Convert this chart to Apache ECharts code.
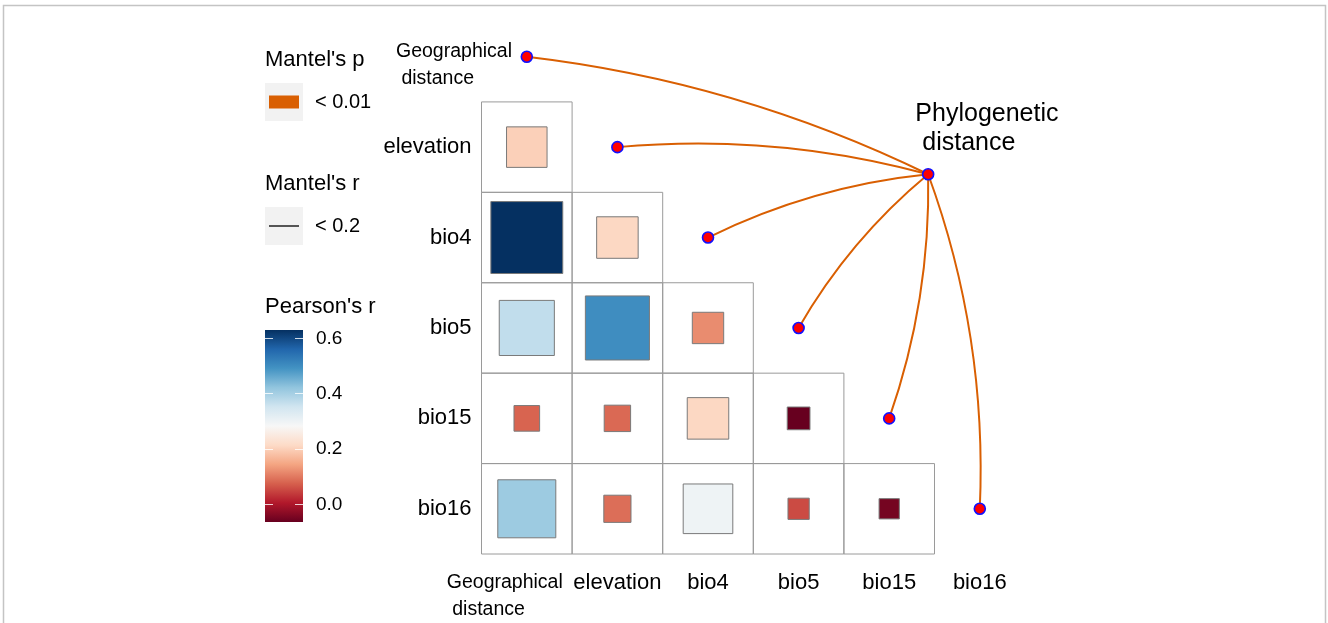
<!DOCTYPE html>
<html>
<head>
<meta charset="utf-8">
<script src="https://cdn.jsdelivr.net/npm/echarts@6/dist/echarts.min.js"></script>
<style>
  html, body { margin: 0; padding: 0; background: #fff; }
  #chart { width: 1328px; height: 623px; }
</style>
</head>
<body>
<div id="chart"></div>
<script>
// Variables of the correlation matrix (top to bottom / left to right)
const variables = ['Geographical distance', 'elevation', 'bio4', 'bio5', 'bio15', 'bio16'];

// Pearson's r of each row variable against the variables before it
const rElevation = [0.20];
const rBio4 = [0.63, 0.21];
const rBio5 = [0.37, 0.50, 0.12];
const rBio15 = [0.08, 0.085, 0.21, -0.063];
const rBio16 = [0.41, 0.09, 0.30, 0.055, -0.05];

// Mantel tests of the species matrix against every variable
const mantelSpec = 'Phylogenetic distance';
const mantelTargets = ['Geographical distance', 'elevation', 'bio4', 'bio5', 'bio15', 'bio16'];
const mantelP = ['< 0.01', '< 0.01', '< 0.01', '< 0.01', '< 0.01', '< 0.01'];
const mantelR = ['< 0.2', '< 0.2', '< 0.2', '< 0.2', '< 0.2', '< 0.2'];

// Colour bar tick labels
const pearsonTicks = [0.0, 0.2, 0.4, 0.6];

// ---------------------------------------------------------------------------
const FONT = "'Liberation Sans', Arial, Helvetica, sans-serif";
const RDBU = ['#67001F', '#B2182B', '#D6604D', '#F4A582', '#FDDBC7', '#F7F7F7',
              '#D1E5F0', '#92C5DE', '#4393C3', '#2166AC', '#053061'];
const MANTEL_P_COLOR = { '< 0.01': '#D95F02' };
const MANTEL_R_WIDTH = { '< 0.2': 2 };
const LINK_BEND = [0.085, 0.09, 0.09, 0.09, -0.09, -0.1];
// placement of the species node in cell units (x from left, y from top)
const SPEC_NODE = [4.93, 1.80];

const rowValues = [[], rElevation, rBio4, rBio5, rBio15, rBio16];
const cells = [];
rowValues.forEach((vals, row) => vals.forEach((r, col) => cells.push([col, row, r])));
const allR = cells.map(c => c[2]);
const rMin = Math.min(...allR);
const rMax = Math.max(...allR);

const wrapName = n => n === 'Geographical distance' ? 'Geographical\n distance' : n;
const n = variables.length;

const chart = echarts.init(document.getElementById('chart'), null, { renderer: 'canvas' });

const diagPoints = variables.map((v, i) => ({ name: v, value: [i + 0.5, i + 0.5] }));
const links = mantelTargets.map((t, k) => {
  const i = variables.indexOf(t);
  return {
    coords: [[i + 0.5, i + 0.5], SPEC_NODE],
    lineStyle: {
      color: MANTEL_P_COLOR[mantelP[k]],
      width: MANTEL_R_WIDTH[mantelR[k]],
      opacity: 1,
      curveness: LINK_BEND[k]
    }
  };
});

// colour bar axis: labels on the right, or short white ticks inside the bar
const barTickAxis = (position, withLabels) => ({
  type: 'value', gridIndex: 1, min: rMin, max: rMax, position: position, z: 10,
  axisLine: { show: false }, splitLine: { show: false },
  axisTick: withLabels ? { show: false } : {
    show: true, inside: true, length: 8, customValues: pearsonTicks.slice(),
    lineStyle: { color: 'rgba(255,255,255,0.8)', width: 1 }
  },
  axisLabel: withLabels
    ? { show: true, margin: 13, fontSize: 19, color: '#000',
        customValues: pearsonTicks.slice(), formatter: v => Number(v).toFixed(1) }
    : { show: false }
});

const option = {
  animation: false,
  textStyle: { fontFamily: FONT, color: '#000' },
  grid: [
    { left: 481.5, top: 11.5, width: 543.6, height: 543.6, containLabel: false },
    { left: 265, top: 330, width: 38, height: 192 }
  ],
  xAxis: [
    {
      type: 'category', gridIndex: 0, data: variables, position: 'bottom',
      axisLine: { show: false }, axisTick: { show: false }, splitLine: { show: false },
      axisLabel: {
        interval: 0, margin: 15, fontSize: 22, color: '#000', lineHeight: 27,
        formatter: (v) => v === 'Geographical distance'
          ? '{g|Geographical}\n{g| distance}' : v,
        rich: { g: { fontSize: 19.5, lineHeight: 27, width: 116, align: 'left', padding: [0, 44, 0, 0], color: '#000' } }
      }
    },
    { type: 'value', gridIndex: 0, min: 0, max: n, show: false },
    { type: 'value', gridIndex: 1, min: 0, max: 1, show: false }
  ],
  yAxis: [
    {
      type: 'category', gridIndex: 0, data: variables, inverse: true,
      axisLine: { show: false }, axisTick: { show: false }, splitLine: { show: false },
      axisLabel: {
        interval: 0, margin: 10, fontSize: 22, color: '#000',
        formatter: (v, i) => i === 0 ? '' : v
      }
    },
    { type: 'value', gridIndex: 0, min: 0, max: n, inverse: true, show: false },
    barTickAxis('right', true),
    barTickAxis('left', false),
    Object.assign(barTickAxis('left', false), { offset: -30 })
  ],
  visualMap: {
    show: false, type: 'continuous', seriesIndex: 0, dimension: 2,
    min: rMin, max: rMax, inRange: { color: RDBU }
  },
  series: [
    {
      // correlation cells: outline of the cell plus a square sized by |r|
      type: 'custom', xAxisIndex: 0, yAxisIndex: 0, data: cells, z: 2,
      encode: { x: 0, y: 1 },
      renderItem: (params, api) => {
        const c = api.coord([api.value(0), api.value(1)]);
        const s = api.size([1, 1]);
        const side = s[0] * Math.sqrt(Math.abs(api.value(2)));
        return {
          type: 'group',
          children: [
            { type: 'rect', shape: { x: c[0] - s[0] / 2, y: c[1] - s[1] / 2, width: s[0], height: s[1] },
              style: { fill: 'none', stroke: '#9a9a9a', lineWidth: 1 } },
            { type: 'rect', shape: { x: c[0] - side / 2, y: c[1] - side / 2, width: side, height: side },
              style: { fill: api.visual('color'), stroke: '#7a7a7a', lineWidth: 1 } }
          ]
        };
      }
    },
    {
      type: 'lines', coordinateSystem: 'cartesian2d', xAxisIndex: 1, yAxisIndex: 1,
      z: 3, data: links, symbol: 'none', silent: true,
      lineStyle: { opacity: 1 }
    },
    {
      type: 'scatter', xAxisIndex: 1, yAxisIndex: 1, z: 4, symbol: 'circle', symbolSize: 11,
      itemStyle: { color: '#FF0000', borderColor: '#1010FF', borderWidth: 1.6, opacity: 1 },
      data: diagPoints.concat([{ name: mantelSpec, value: SPEC_NODE }]),
      label: {
        show: true, fontFamily: FONT, color: '#000',
        formatter: p => {
          if (p.name === mantelSpec) return 'Phylogenetic\n distance';
          return p.dataIndex === 0 ? wrapName(p.name) : '';
        }
      },
      emphasis: { disabled: true }
    },
    {
      // colour bar
      type: 'custom', xAxisIndex: 2, yAxisIndex: 2, data: [[0, rMin]], silent: true, z: 1,
      renderItem: (params) => {
        const cs = params.coordSys;
        return {
          type: 'rect', shape: { x: cs.x, y: cs.y, width: cs.width, height: cs.height },
          style: {
            fill: new echarts.graphic.LinearGradient(0, 1, 0, 0,
              RDBU.map((c, i) => ({ offset: i / (RDBU.length - 1), color: c })))
          }
        };
      }
    }
  ],
  graphic: [
    // outer frame
    { type: 'rect', z: 0, shape: { x: 3.5, y: 5.5, width: 1322, height: 660 },
      style: { fill: 'none', stroke: '#c4c4c4', lineWidth: 1.5 } },
    // Mantel's p key
    { type: 'text', style: { x: 265, y: 60, text: "Mantel's p", font: '22px ' + FONT, fill: '#000', verticalAlign: 'middle' } },
    { type: 'rect', shape: { x: 265, y: 83, width: 38, height: 38 }, style: { fill: '#F2F2F2' } },
    { type: 'rect', shape: { x: 269, y: 95.5, width: 30, height: 13 }, style: { fill: MANTEL_P_COLOR['< 0.01'] } },
    { type: 'text', style: { x: 315, y: 102.5, text: '< 0.01', font: '20px ' + FONT, fill: '#000', verticalAlign: 'middle' } },
    // Mantel's r key
    { type: 'text', style: { x: 265, y: 183.5, text: "Mantel's r", font: '22px ' + FONT, fill: '#000', verticalAlign: 'middle' } },
    { type: 'rect', shape: { x: 265, y: 207, width: 38, height: 38 }, style: { fill: '#F2F2F2' } },
    { type: 'line', shape: { x1: 269, y1: 226, x2: 299, y2: 226 }, style: { stroke: '#555555', lineWidth: 2 } },
    { type: 'text', style: { x: 315, y: 226.5, text: '< 0.2', font: '20px ' + FONT, fill: '#000', verticalAlign: 'middle' } },
    // Pearson's r title
    { type: 'text', style: { x: 265, y: 306.5, text: "Pearson's r", font: '22px ' + FONT, fill: '#000', verticalAlign: 'middle' } }
  ]
};

// label placement for the two annotated nodes
option.series[2].data = option.series[2].data.map((d, i) => {
  if (d.name === mantelSpec) {
    return Object.assign({}, d, { label: { position: [-6.5, -68], align: 'left', verticalAlign: 'top', fontSize: 25, lineHeight: 29 } });
  }
  if (i === 0) {
    return Object.assign({}, d, { label: { position: [-124.5, -12], align: 'left', verticalAlign: 'top', fontSize: 19.5, lineHeight: 27 } });
  }
  return d;
});

chart.setOption(option);
</script>
</body>
</html>
